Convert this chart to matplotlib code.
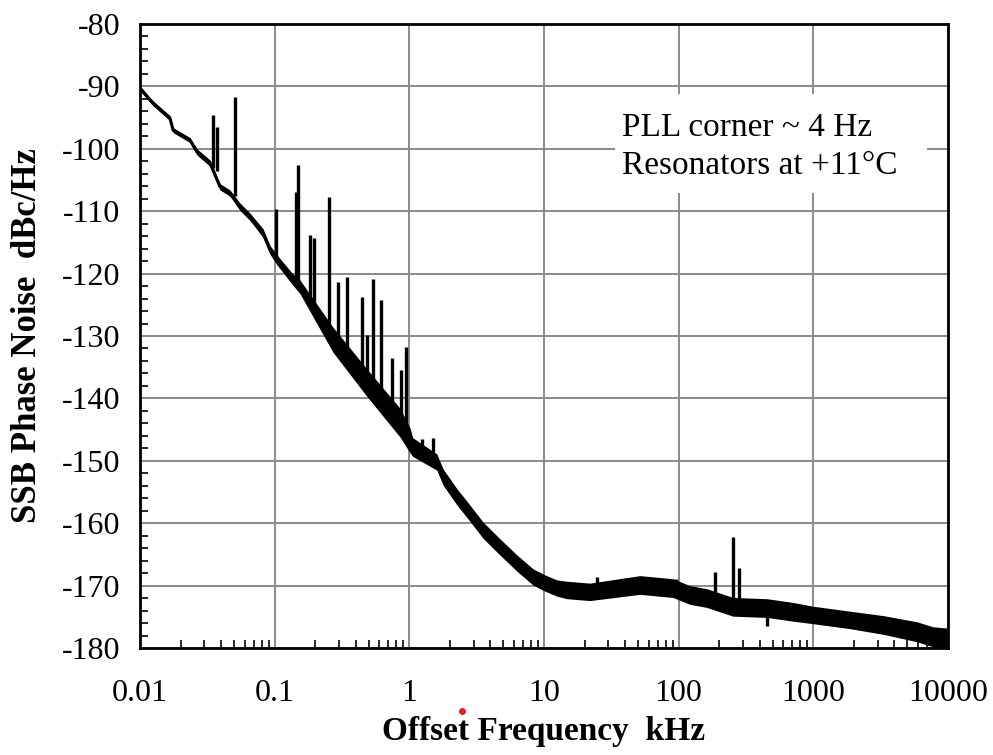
import numpy as np
import matplotlib
matplotlib.use("Agg")
import matplotlib.pyplot as plt
from matplotlib.patches import Rectangle
from matplotlib.ticker import FixedLocator, NullFormatter, MultipleLocator

# -------------------
# Data
# -------------------
# centre of the measured trace, offset frequency in kHz
trace_freq = [0.01, 0.0119, 0.0125, 0.0167, 0.0176, 0.0235, 0.0265, 0.0331,
              0.0393, 0.0466, 0.0553, 0.0656, 0.0819, 0.0923, 0.104, 0.137,
              0.154, 0.271, 0.485, 0.853, 1.01, 1.06, 1.60, 1.78, 2.26, 2.82,
              3.52, 4.71, 6.30, 8.28, 10.2, 12.5, 14.8, 21.9, 51.6, 90.8,
              121, 162, 253, 453, 707, 994, 1871, 3290, 5885, 7730, 9820]
trace_level = [-90.3, -92.2, -92.7, -95.1, -97.0, -98.6, -100.5, -102.3,
               -106.1, -107.1, -109.3, -110.9, -113.5, -116.2, -117.8, -121.0,
               -122.1, -130.6, -137.5, -143.9, -146.7, -147.8, -150.2, -152.6,
               -155.8, -158.4, -161.1, -163.8, -166.4, -168.6, -169.6, -170.4,
               -170.7, -171.0, -169.9, -170.4, -171.5, -172.0, -173.4, -173.6,
               -174.2, -174.7, -175.5, -176.3, -177.4, -178.2, -178.4]
# half thickness of the noisy trace (dB)
trace_spread = [0.4, 0.4, 0.4, 0.4, 0.4, 0.4, 0.5, 0.5,
                0.5, 0.5, 0.6, 0.6, 0.7, 0.7, 0.8, 0.9,
                1.1, 2.0, 2.2, 2.3, 2.0, 1.5, 1.3, 1.3, 1.3, 1.3,
                1.3, 1.3, 1.3, 1.3, 1.3, 1.3, 1.4, 1.4, 1.5, 1.5,
                1.5, 1.5, 1.5, 1.5, 1.5, 1.4, 1.4, 1.5, 1.6, 1.6, 1.6]

# discrete spurs: frequency (kHz), foot and tip (dBc/Hz)
spur_freq = [0.0350, 0.0371, 0.0508, 0.1023, 0.143, 0.149, 0.183, 0.196,
             0.253, 0.295, 0.345, 0.445, 0.485, 0.537, 0.62, 0.743, 0.867,
             0.944, 1.24, 1.50, 24.7, 95, 186, 253, 280, 453]
spur_base = [-103.0, -103.5, -107.5, -117.5, -121.3, -121.8, -124.0, -124.8,
             -128.3, -130.0, -132.0, -135.5, -137.0, -138.0, -140.0, -141.5,
             -144.0, -144.5, -149.0, -150.0, -171.0, -171.5, -172.5, -173.4,
             -173.5, -173.6]
spur_peak = [-94.6, -96.5, -91.7, -109.6, -106.9, -102.6, -113.8, -114.3,
             -107.7, -121.3, -120.5, -123.8, -129.8, -120.9, -124.2, -133.5,
             -135.4, -131.7, -146.5, -146.3, -168.6, -169.0, -167.8, -162.2,
             -167.2, -176.5]

x_ticks = [0.01, 0.1, 1, 10, 100, 1000, 10000]
x_labels = ["0.01", "0.1", "1", "10", "100", "1000", "10000"]
y_ticks = [-180, -170, -160, -150, -140, -130, -120, -110, -100, -90, -80]

note_lines = ["PLL corner ~ 4 Hz", "Resonators at +11\u00b0C"]

# -------------------
# Figure
# -------------------
plt.rcParams["font.family"] = ["Liberation Serif", "DejaVu Serif"]
plt.rcParams["axes.unicode_minus"] = False

fig = plt.figure(figsize=(9.93, 7.55), dpi=100)
ax = fig.add_axes([0.141, 0.1417, 0.8137, 0.8265])

lo = np.array(trace_level) - np.array(trace_spread)
hi = np.array(trace_level) + np.array(trace_spread)
ax.fill_between(trace_freq, lo, hi, color="black", lw=0, zorder=3)
ax.plot(trace_freq, trace_level, color="black", lw=2.2, zorder=3)
ax.vlines(spur_freq, spur_base, spur_peak, color="black", lw=2.4, zorder=3)

ax.set_xscale("log")
ax.set_xlim(0.01, 10000)
ax.set_ylim(-180, -80)

ax.xaxis.set_major_locator(FixedLocator(x_ticks))
ax.set_xticklabels(x_labels)
minor = [m * 10.0 ** e for e in range(-2, 4) for m in range(2, 10)]
ax.xaxis.set_minor_locator(FixedLocator(minor))
ax.xaxis.set_minor_formatter(NullFormatter())
ax.yaxis.set_major_locator(FixedLocator(y_ticks))
ax.yaxis.set_minor_locator(MultipleLocator(2))

ax.tick_params(axis="both", which="both", direction="in", top=False, right=False)
ax.tick_params(axis="x", which="major", length=0, labelsize=23, pad=22)
ax.tick_params(axis="x", which="minor", length=6, width=1.2)
ax.tick_params(axis="y", which="major", length=0, labelsize=23, pad=14)
ax.tick_params(axis="y", which="minor", length=6, width=1.2)

ax.grid(True, which="major", color="#8a8a8a", lw=1.4, zorder=1)
for s in ax.spines.values():
    s.set_linewidth(2.0)
    s.set_zorder(4)

ax.set_xlabel("Offset Frequency  kHz", fontsize=24, fontweight="bold", labelpad=6)
ax.set_ylabel("SSB Phase Noise  dBc/Hz", fontsize=25, fontweight="bold", labelpad=13)

# white note box covering the grid
ax.add_patch(Rectangle((0.588, 0.729), 0.386, 0.159, transform=ax.transAxes,
                       fc="white", ec="none", zorder=2))
ax.text(0.597, 0.803, "\n".join(note_lines), transform=ax.transAxes,
        fontsize=24, linespacing=1.3, va="center", ha="left", zorder=5)

# small red mark under the axis, as in the source image
fig.add_artist(plt.Line2D([0.465], [0.0583], marker="o", ms=4, color="#e0202a",
                          lw=0, transform=fig.transFigure))

fig.savefig("out.png", dpi=100)
